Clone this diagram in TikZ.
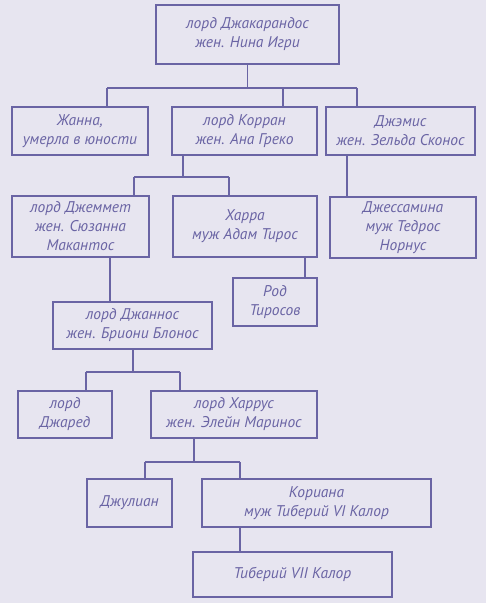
\documentclass[tikz,border=0pt]{standalone}
\usepackage{fontspec}
\setmainfont{PT Sans}
\usepackage{tikz}
\usetikzlibrary{calc}

\definecolor{paper}{HTML}{E7E5F0}
\definecolor{ink}{HTML}{6A64A4}

\tikzset{
  person/.style={draw=ink, fill=paper, line width=1.1pt, align=center, inner sep=0pt,
    text=ink, font=\itshape\fontsize{15.5}{19}\selectfont},
  link/.style={draw=ink, line width=1.1pt}
}

\begin{document}
\begin{tikzpicture}[x=1pt, y=-1pt]
% Paper
\fill[paper] (0,0) rectangle (486,603);
\useasboundingbox (0,0) rectangle (486,603);

% Generation 1 and 2
\node[person, minimum width=183, minimum height=59] (jakarandos) at (247.5,34.5) {лорд Джакарандос\\жен. Нина Игри};
\node[person, minimum width=136, minimum height=48] (zhanna) at (80,131) {Жанна,\\умерла в юности};
\node[person, minimum width=145, minimum height=48] (korran) at (244.5,131) {лорд Корран\\жен. Ана Греко};
\node[person, minimum width=149, minimum height=48] (jemis) at (400.5,131) {Джэмис\\жен. Зельда Сконос};

% Generation 3
\node[person, minimum width=137, minimum height=61] (jemmet) at (80.5,226.5) {лорд Джеммет\\жен. Сюзанна\\Макантос};
\node[person, minimum width=144, minimum height=61] (harra) at (245,226.5) {Харра\\муж Адам Тирос};
\node[person, minimum width=146, minimum height=61] (jessamina) at (403,227.5) {Джессамина\\муж Тедрос\\Норнус};
\node[person, minimum width=84, minimum height=48] (rod) at (275,302) {Род\\Тиросов};

% Generation 4 and below
\node[person, minimum width=159, minimum height=47] (jannos) at (132.5,325.5) {лорд Джаннос\\жен. Бриони Блонос};
\node[person, minimum width=94, minimum height=47] (jared) at (65,414.5) {лорд\\Джаред};
\node[person, minimum width=166, minimum height=47] (harrus) at (234,414.5) {лорд Харрус\\жен. Элейн Маринос};
\node[person, minimum width=85, minimum height=48] (julian) at (129.5,503) {Джулиан};
\node[person, minimum width=229, minimum height=48] (koriana) at (316.5,503) {Кориана\\муж Тиберий VI Калор};
\node[person, minimum width=199, minimum height=45] (tiberius) at (292.5,574.5) {Тиберий VII Калор};

% Bus points
\coordinate (a1) at (107,88);  \coordinate (a2) at (283,88);  \coordinate (a3) at (357,88);
\coordinate (b0) at (183,177); \coordinate (b1) at (134,177); \coordinate (b2) at (229,177);
\coordinate (c0) at (133,372); \coordinate (c1) at (86,372);  \coordinate (c2) at (180,372);
\coordinate (d0) at (194,462); \coordinate (d1) at (145,462); \coordinate (d2) at (240,462);
\coordinate (e1) at (347,0);   \coordinate (e2) at (305,0);   \coordinate (e3) at (110,0);
\coordinate (e4) at (240,0);

% Lines from Jakarandos
\draw[link] (jakarandos.south) -- (jakarandos.south |- a1);
\draw[link] (a1) -- (a3);
\draw[link] (a1) -- (a1 |- zhanna.north);
\draw[link] (a2) -- (a2 |- korran.north);
\draw[link] (a3) -- (a3 |- jemis.north);

% Lines from Korran
\draw[link] (korran.south -| b0) -- (b0);
\draw[link] (b1) -- (b2);
\draw[link] (b1) -- (b1 |- jemmet.north);
\draw[link] (b2) -- (b2 |- harra.north);

% Single lines
\draw[link] (jemis.south -| e1) -- (jessamina.north -| e1);
\draw[link] (harra.south -| e2) -- (rod.north -| e2);
\draw[link] (jemmet.south -| e3) -- (jannos.north -| e3);
\draw[link] (koriana.south -| e4) -- (tiberius.north -| e4);

% Lines from Jannos
\draw[link] (jannos.south -| c0) -- (c0);
\draw[link] (c1) -- (c2);
\draw[link] (c1) -- (c1 |- jared.north);
\draw[link] (c2) -- (c2 |- harrus.north);

% Lines from Harrus
\draw[link] (harrus.south -| d0) -- (d0);
\draw[link] (d1) -- (d2);
\draw[link] (d1) -- (d1 |- julian.north);
\draw[link] (d2) -- (d2 |- koriana.north);
\end{tikzpicture}
\end{document}
